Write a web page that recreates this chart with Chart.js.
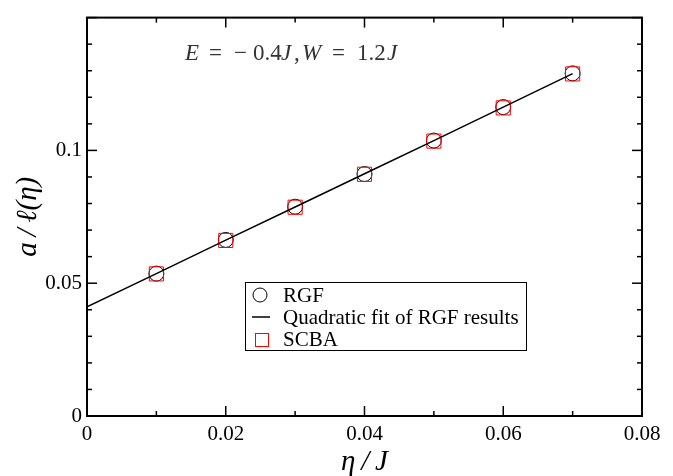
<!DOCTYPE html>
<html>
<head>
<meta charset="utf-8">
<script src="https://cdn.jsdelivr.net/npm/chart.js@4"></script>
<style>
  html, body { margin: 0; padding: 0; background: #fff; }
  #wrap { width: 673px; height: 476px; }
</style>
</head>
<body>
<div id="wrap"><canvas id="plot"></canvas></div>
<script>
// data
const etaPoints = [0.01, 0.02, 0.03, 0.04, 0.05, 0.06, 0.07];
const rgfValues = [0.0536, 0.0663, 0.0788, 0.0911, 0.1037, 0.1163, 0.1290];
const scbaValues = [0.0535, 0.0661, 0.0786, 0.0910, 0.1035, 0.1160, 0.1288];
const fitEta = [0, 0.01, 0.02, 0.03, 0.04, 0.05, 0.06, 0.07];
const fitValues = [0.0411, 0.0536, 0.0662, 0.0787, 0.0912, 0.1037, 0.1163, 0.1289];
const xTickLabels = ["0", "0.02", "0.04", "0.06", "0.08"];
const yTickLabels = ["0", "0.05", "0.1", ""];
const legendLabels = ["RGF", "Quadratic fit of RGF results", "SCBA"];

const serif = "'Liberation Serif', 'Times New Roman', serif";

function pairs(xs, ys) {
  return xs.map((v, i) => ({ x: v, y: ys[i] }));
}

const frame = {
  id: "frame",
  afterDraw(chart) {
    const { ctx, chartArea: a, scales } = chart;
    const x = scales.x, y = scales.y;
    ctx.save();
    ctx.strokeStyle = "#000";
    ctx.lineWidth = 1.5;
    const seg = (x1, y1, x2, y2) => {
      ctx.beginPath(); ctx.moveTo(x1, y1); ctx.lineTo(x2, y2); ctx.stroke();
    };
    // inward ticks, minor ones split each major interval
    const xt = x.ticks.map(t => t.value);
    for (let i = 0; i < xt.length; i++) {
      const px = x.getPixelForValue(xt[i]);
      seg(px, a.bottom, px, a.bottom - 10);
      seg(px, a.top, px, a.top + 10);
      if (i < xt.length - 1) {
        const pm = x.getPixelForValue((xt[i] + xt[i + 1]) / 2);
        seg(pm, a.bottom, pm, a.bottom - 5);
        seg(pm, a.top, pm, a.top + 5);
      }
    }
    const yt = y.ticks.map(t => t.value);
    for (let i = 0; i < yt.length; i++) {
      const py = y.getPixelForValue(yt[i]);
      seg(a.left, py, a.left + 10, py);
      seg(a.right, py, a.right - 10, py);
      if (i < yt.length - 1) {
        for (let k = 1; k < 5; k++) {
          const pm = y.getPixelForValue(yt[i] + (yt[i + 1] - yt[i]) * k / 5);
          seg(a.left, pm, a.left + 5, pm);
          seg(a.right, pm, a.right - 5, pm);
        }
      }
    }
    ctx.lineWidth = 2;
    ctx.strokeRect(a.left, a.top, a.right - a.left, a.bottom - a.top);

    // annotation, laid out like the TeX original
    ctx.fillStyle = "#333";
    ctx.textBaseline = "alphabetic";
    const parts = [["E", 1, 185], ["=", 0, 209], ["\u2212", 0, 234], ["0.4", 0, 253], ["J", 1, 281], [",", 0, 294],
                   ["W", 1, 302], ["=", 0, 332], ["1.2", 0, 357], ["J", 1, 387]];
    for (const [t, it, tx] of parts) {
      ctx.font = (it ? "italic " : "") + "23px " + serif;
      ctx.fillText(t, tx, 60);
    }

    // legend box
    ctx.lineWidth = 1;
    ctx.strokeStyle = "#000";
    ctx.strokeRect(245.5, 282.5, 281, 68);
    ctx.font = "21px " + serif;
    ctx.fillStyle = "#000";
    const rows = [302, 324, 346];
    legendLabels.forEach((lab, i) => ctx.fillText(lab, 283, rows[i]));
    ctx.beginPath();
    ctx.arc(260, 295, 7, 0, Math.PI * 2);
    ctx.stroke();
    ctx.lineWidth = 1.5;
    seg(252, 317, 270, 317);
    ctx.lineWidth = 1;
    ctx.strokeStyle = "#f00";
    ctx.strokeRect(255.5, 333.5, 13, 13);
    ctx.restore();
  }
};

new Chart(document.getElementById("plot"), {
  type: "scatter",
  data: {
    datasets: [
      {
        label: legendLabels[1],
        type: "line",
        data: pairs(fitEta, fitValues),
        borderColor: "#000",
        borderWidth: 1.5,
        pointRadius: 0,
        fill: false,
        tension: 0,
      },
      {
        label: legendLabels[2],
        data: pairs(etaPoints, scbaValues),
        pointStyle: "rect",
        pointRadius: 10,
        borderColor: "#f00",
        borderWidth: 1,
        backgroundColor: "rgba(0,0,0,0)",
      },
      {
        label: legendLabels[0],
        data: pairs(etaPoints, rgfValues),
        pointStyle: "circle",
        pointRadius: 7.5,
        borderColor: "#000",
        borderWidth: 1,
        backgroundColor: "rgba(0,0,0,0)",
      },
    ],
  },
  options: {
    responsive: true,
    maintainAspectRatio: false,
    animation: false,
    layout: { padding: { top: 12, right: 31, left: 0, bottom: 0 } },
    plugins: { legend: { display: false }, tooltip: { enabled: false } },
    scales: {
      x: {
        type: "linear",
        min: 0,
        max: 0.08,
        grid: { display: false, drawTicks: false },
        border: { display: false },
        ticks: {
          stepSize: 0.02,
          padding: 6,
          color: "#000",
          font: { family: serif, size: 21 },
          callback: (v, i) => xTickLabels[i] ?? "",
        },
        title: {
          display: true,
          text: "\u03B7\u2009/\u2009J",
          color: "#000",
          font: { family: serif, size: 29, style: "italic", lineHeight: 1 },
          padding: { top: 0, bottom: -1 },
        },
        afterFit(s) { s.height = 60; },
      },
      y: {
        type: "linear",
        min: 0,
        max: 0.15,
        grid: { display: false, drawTicks: false },
        border: { display: false },
        ticks: {
          stepSize: 0.05,
          padding: 5,
          color: "#000",
          font: { family: serif, size: 21 },
          callback: (v, i) => yTickLabels[i] ?? "",
        },
        title: {
          display: true,
          text: "a\u2009/\u2009\u2113(\u03B7)",
          color: "#000",
          font: { family: serif, size: 29, style: "italic", lineHeight: 1 },
          padding: { top: 14, bottom: 0 },
        },
        afterFit(s) { s.width = 87; },
      },
    },
  },
  plugins: [frame],
});
</script>
</body>
</html>
